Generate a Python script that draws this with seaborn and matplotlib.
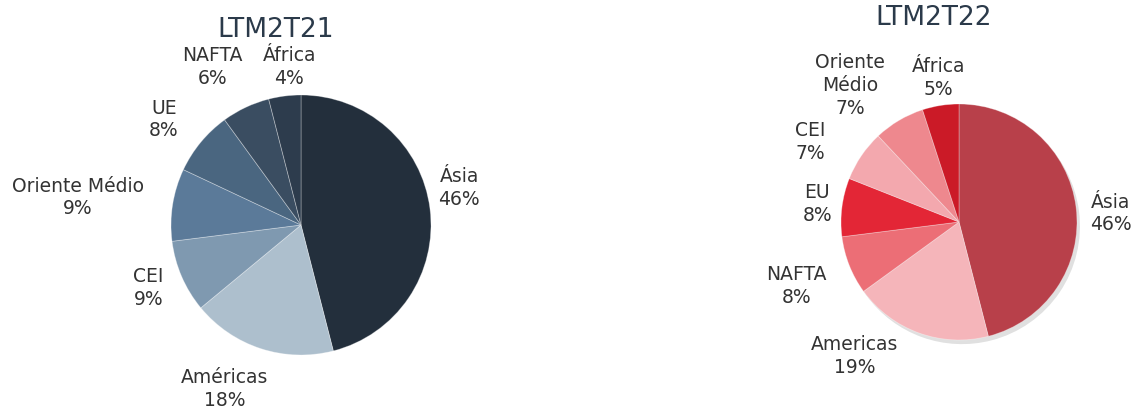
import numpy as np
import seaborn as sns
import matplotlib.pyplot as plt

sns.set_theme(style="white")
plt.rcParams['font.family'] = ['DejaVu Sans']

# LTM2T21
labels_21 = ['Ásia', 'Américas', 'CEI', 'Oriente Médio', 'UE', 'NAFTA', 'África']
values_21 = [46, 18, 9, 9, 8, 6, 4]
colors_21 = ['#232f3c', '#adbfcd', '#7f99b0', '#5b7a99', '#4a6680', '#3a4d61', '#2d3c4d']

# LTM2T22
labels_22 = ['Ásia', 'Americas', 'NAFTA', 'EU', 'CEI', 'Oriente\nMédio', 'África']
values_22 = [46, 19, 8, 8, 7, 7, 5]
colors_22 = ['#b8404a', '#f5b5ba', '#ec6e76', '#e32636', '#f3a8ae', '#ee888e', '#cb1a27']

# label placement tweaks (distance in radii, angle shift in degrees)
dist_21 = [1.25, 1.39, 1.27, 1.73, 1.33, 1.39, 1.22]
shift_21 = [6, -7, -1, 2, 2, 4, -3]
dist_22 = [1.29, 1.44, 1.48, 1.21, 1.43, 1.48, 1.23]
shift_22 = [-4, -18, 0, 0, 6, 8, -1]

W, H = 1133, 412
fig = plt.figure(figsize=(W / 100, H / 100), dpi=100)


def draw_pie(cx, cy, r, vals, labs, cols, dists, shifts, title, title_y, shadow):
    ax = fig.add_axes([(cx - r) / W, (H - cy - r) / H, 2 * r / W, 2 * r / H])
    if shadow:
        ax.pie(vals, colors=['#000000'] * len(vals), startangle=90, counterclock=False,
               radius=1, center=(0.025, -0.035), wedgeprops=dict(alpha=0.12, linewidth=0))
    wedges, _ = ax.pie(vals, colors=cols, startangle=90, counterclock=False, radius=1,
                       wedgeprops=dict(edgecolor=(1, 1, 1, 0.35), linewidth=0.6))
    for w, lab, v, d, s in zip(wedges, labs, vals, dists, shifts):
        ang = np.deg2rad((w.theta1 + w.theta2) / 2 + s)
        ax.text(d * np.cos(ang), d * np.sin(ang), f'{lab}\n{v}%', ha='center', va='center',
                fontsize=13.5, color='#333333', linespacing=1.25)
    ax.set_xlim(-1, 1)
    ax.set_ylim(-1, 1)
    ax.set_aspect('equal')
    ax.axis('off')
    fig.text(cx / W - 0.022, 1 - title_y / H, title, ha='center', va='center',
             fontsize=19, color='#2b3a4a')


draw_pie(301, 225, 130, values_21, labels_21, colors_21, dist_21, shift_21, 'LTM2T21', 30, False)
draw_pie(959, 222, 118, values_22, labels_22, colors_22, dist_22, shift_22, 'LTM2T22', 18, True)

fig.savefig('out.png', dpi=100)
